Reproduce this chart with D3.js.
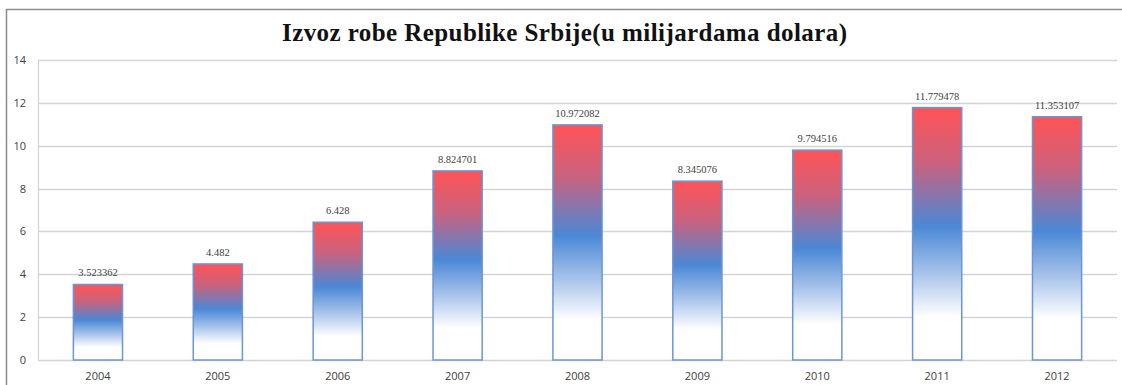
<!DOCTYPE html>
<html>
<head>
<meta charset="utf-8">
<script src="https://cdn.jsdelivr.net/npm/d3@7"></script>
<style>
  html, body { margin: 0; padding: 0; background: #fff; }
  svg { display: block; }
</style>
</head>
<body>
<svg id="chart" width="1122" height="385"></svg>
<script>
// Export of goods, billions of USD
const years = ["2004", "2005", "2006", "2007", "2008", "2009", "2010", "2011", "2012"];
const exportValues = [3.523362, 4.482, 6.428, 8.824701, 10.972082, 8.345076, 9.794516, 11.779478, 11.353107];
const valueLabels = ["3.523362", "4.482", "6.428", "8.824701", "10.972082", "8.345076", "9.794516", "11.779478", "11.353107"];
const yTicks = [0, 2, 4, 6, 8, 10, 12, 14];
const titleText = "Izvoz robe Republike Srbije(u milijardama dolara)";

const W = 1122, H = 385;
const plot = { left: 38, right: 1117, top: 60, bottom: 360 };

const svg = d3.select("#chart");

// gradient fill: red on top, blue through the middle, fading to white
const defs = svg.append("defs");
const grad = defs.append("linearGradient")
  .attr("id", "barFill")
  .attr("x1", 0).attr("y1", 0).attr("x2", 0).attr("y2", 1);
[
  [0, "#ff5456"],
  [0.22, "#c9627e"],
  [0.47, "#4a88d6"],
  [0.66, "#a9c4ea"],
  [0.83, "#ffffff"],
  [1, "#ffffff"]
].forEach(([o, c]) => grad.append("stop").attr("offset", o).attr("stop-color", c));

// outer frame lines
svg.append("line").attr("x1", 6).attr("x2", W).attr("y1", 9.5).attr("y2", 9.5)
  .attr("stroke", "#8c8c8c").attr("stroke-width", 1.5);
svg.append("line").attr("x1", 6.5).attr("x2", 6.5).attr("y1", 9).attr("y2", H)
  .attr("stroke", "#8c8c8c").attr("stroke-width", 1.5);

// title
svg.append("text")
  .attr("x", 564.5).attr("y", 41)
  .attr("text-anchor", "middle")
  .attr("font-family", "'Liberation Serif', 'DejaVu Serif', serif")
  .attr("font-weight", "bold")
  .attr("font-size", 25)
  .attr("textLength", 565)
  .attr("lengthAdjust", "spacing")
  .attr("fill", "#111")
  .text(titleText);

const x = d3.scaleBand().domain(years).range([plot.left, plot.right]).paddingInner(0.59).paddingOuter(0.295);
const y = d3.scaleLinear().domain([0, 14]).range([plot.bottom, plot.top]);

// horizontal gridlines
svg.append("g")
  .selectAll("line")
  .data(yTicks)
  .join("line")
  .attr("x1", plot.left).attr("x2", plot.right)
  .attr("y1", d => Math.round(y(d)) + 0.5).attr("y2", d => Math.round(y(d)) + 0.5)
  .attr("stroke", "#d4d4d4").attr("stroke-width", 1.3);

// vertical axis line
svg.append("line")
  .attr("x1", plot.left + 0.5).attr("x2", plot.left + 0.5)
  .attr("y1", plot.top).attr("y2", plot.bottom)
  .attr("stroke", "#d4d4d4").attr("stroke-width", 1.3);

// y tick labels
svg.append("g")
  .selectAll("text")
  .data(yTicks)
  .join("text")
  .attr("x", 26).attr("y", d => y(d) + 4)
  .attr("text-anchor", "end")
  .attr("font-family", "'Open Sans', 'Liberation Sans', sans-serif")
  .attr("font-size", 11)
  .attr("fill", "#404040")
  .text(d => d);

// x tick labels
svg.append("g")
  .selectAll("text")
  .data(years)
  .join("text")
  .attr("x", d => x(d) + x.bandwidth() / 2).attr("y", 380)
  .attr("text-anchor", "middle")
  .attr("font-family", "'Open Sans', 'Liberation Sans', sans-serif")
  .attr("font-size", 11)
  .attr("fill", "#404040")
  .text(d => d);

// bars
svg.append("g")
  .selectAll("rect")
  .data(exportValues)
  .join("rect")
  .attr("x", (d, i) => x(years[i]))
  .attr("y", d => y(d))
  .attr("width", x.bandwidth())
  .attr("height", d => y(0) - y(d))
  .attr("fill", "url(#barFill)")
  .attr("stroke", "#6b96d6")
  .attr("stroke-width", 1.5);

// value labels
svg.append("g")
  .selectAll("text")
  .data(exportValues)
  .join("text")
  .attr("x", (d, i) => x(years[i]) + x.bandwidth() / 2)
  .attr("y", d => y(d) - 8)
  .attr("text-anchor", "middle")
  .attr("font-family", "'Liberation Serif', 'DejaVu Serif', serif")
  .attr("font-size", 10.5)
  .attr("fill", "#404040")
  .text((d, i) => valueLabels[i]);
</script>
</body>
</html>
